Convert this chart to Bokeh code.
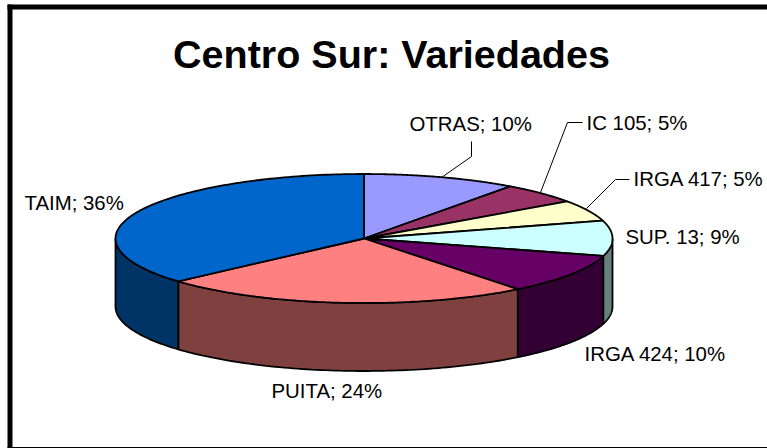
import numpy as np
from bokeh.plotting import figure
from bokeh.embed import file_html
from bokeh.resources import INLINE
from bokeh.models import Range1d
from bokeh.core.properties import value

title_text = "Centro Sur: Variedades"
names = ["OTRAS", "IC 105", "IRGA 417", "SUP. 13", "IRGA 424", "PUITA", "TAIM"]
shares = [10.0, 5.2, 5.3, 8.8, 10.0, 24.0, 36.49]
top_colors = ["#9999FF", "#993366", "#FFFFCC", "#CCFFFF", "#660066", "#FF8080", "#0066CC"]
side_colors = ["#4C4C7F", "#4C1933", "#7F7F66", "#667F7F", "#330033", "#7F4040", "#003366"]
label_x = [409, 586, 633, 625, 584, 271, 24]
label_y = [123, 122, 178, 236, 353, 390, 202]
leaders = [([471, 471, 441], [141, 156, 177]), ([582, 567, 540], [122, 122, 192]), ([629, 615, 586], [179, 179, 208])]

W, H = 767, 448
CX, CY, RX, RY, DEPTH = 363.5, 238.0, 248.5, 64.5, 68.0

p = figure(width=W, height=H, x_range=Range1d(0, W), y_range=Range1d(H, 0),
           output_backend="svg", toolbar_location=None, min_border=0,
           margin=(0, 0, 0, 0), background_fill_color="white", border_fill_color="white")
p.axis.visible = False
p.grid.visible = False
p.outline_line_color = None

# frame
p.line([9.5, 9.5], [4, H], line_color="black", line_width=5)
p.line([7, 767], [6.5, 6.5], line_color="black", line_width=5)
p.line([7, 767], [447.5, 447.5], line_color="black", line_width=2)

cum = np.cumsum([0] + shares) / sum(shares) * 2 * np.pi

def ex(t):
    return CX + RX * np.sin(t)

def ey(t):
    return CY - RY * np.cos(t)

for i in range(len(shares)):
    a, b = max(cum[i], np.pi / 2), min(cum[i + 1], 3 * np.pi / 2)
    if b <= a:
        continue
    t = np.linspace(a, b, 80)
    xs = list(ex(t)) + list(ex(t[::-1]))
    ys = list(ey(t)) + list(ey(t[::-1]) + DEPTH)
    p.patch(xs, ys, fill_color=side_colors[i], line_color="black", line_width=1.8)

for i in range(len(shares)):
    t = np.linspace(cum[i], cum[i + 1], 120)
    xs = [CX] + list(ex(t))
    ys = [CY] + list(ey(t))
    p.patch(xs, ys, fill_color=top_colors[i], line_color="black", line_width=1.8)

for lx, ly in leaders:
    p.line(lx, ly, line_color="black", line_width=1)

labels = [f"{n}; {round(s)}%" for n, s in zip(names, shares)]
p.text(label_x, label_y, text=labels, text_font=value("Liberation Sans"), text_font_size="20.4px",
       text_color="black", text_align="left", text_baseline="middle")
p.text([391], [53], text=[title_text], text_font=value("Liberation Sans"), text_font_size="39.5px",
       text_font_style="bold", text_color="black", text_align="center", text_baseline="middle")

open("out.html", "w").write(file_html(p, INLINE))
